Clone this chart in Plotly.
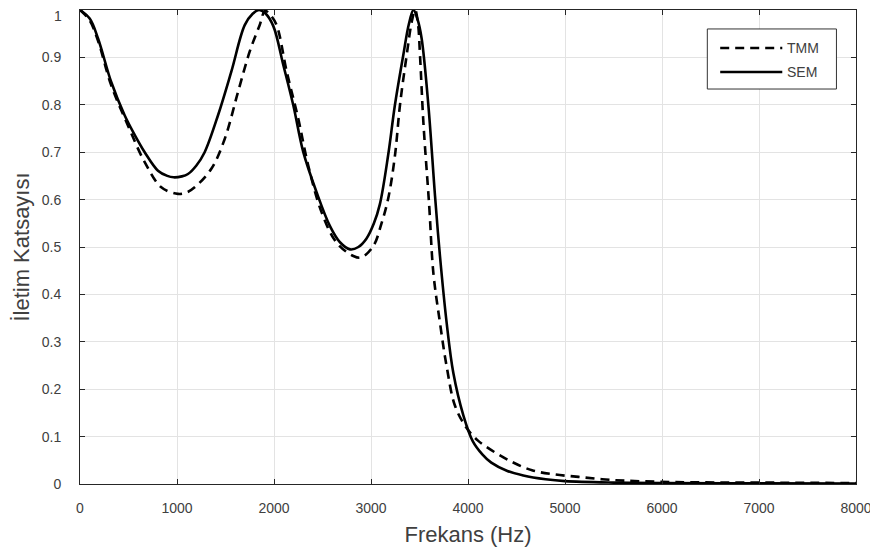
import plotly.graph_objects as go

# ---- data ----
sem_freq = [0, 100, 186, 322, 460, 560, 667, 804, 900, 965, 1050, 1113, 1200, 1285, 1423,
            1560, 1698, 1780, 1845, 1910, 1993, 2096, 2199, 2302, 2440, 2577, 2680, 2784,
            2870, 2954, 3030, 3091, 3177, 3247, 3333, 3390, 3438, 3480, 3522, 3591, 3660,
            3711, 3780, 3849, 3952, 4050, 4150, 4240, 4400, 4570, 4800, 5000, 5500, 6000,
            7000, 8000]
sem_vals = [1.0, 0.982, 0.94, 0.848, 0.778, 0.738, 0.70, 0.661, 0.650, 0.647, 0.649, 0.654,
            0.672, 0.70, 0.778, 0.87, 0.968, 0.992, 1.0, 0.993, 0.966, 0.884, 0.799, 0.70,
            0.615, 0.544, 0.51, 0.495, 0.50, 0.518, 0.55, 0.59, 0.694, 0.80, 0.905, 0.97,
            1.0, 0.98, 0.94, 0.80, 0.608, 0.481, 0.34, 0.234, 0.145, 0.09, 0.062, 0.045,
            0.028, 0.018, 0.010, 0.006, 0.003, 0.002, 0.0015, 0.001]

tmm_freq = [0, 100, 186, 322, 495, 667, 838, 1010, 1100, 1182, 1354, 1492, 1629, 1749,
            1852, 1907, 1960, 2027, 2131, 2250, 2353, 2491, 2646, 2818, 2900, 3024,
            3110, 3179, 3247, 3299, 3368, 3420, 3455, 3485, 3505, 3540, 3600, 3643,
            3711, 3780, 3866, 3986, 4100, 4192, 4420, 4660, 4900, 5141, 5381, 5620,
            6134, 7000, 8000]
tmm_vals = [1.0, 0.978, 0.935, 0.841, 0.756, 0.679, 0.626, 0.612, 0.615, 0.626, 0.665,
            0.728, 0.827, 0.912, 0.968, 0.998, 0.99, 0.968, 0.87, 0.771, 0.672, 0.573,
            0.509, 0.481, 0.478, 0.502, 0.551, 0.604, 0.693, 0.80, 0.905, 0.975, 1.0,
            0.97, 0.905, 0.763, 0.587, 0.445, 0.34, 0.248, 0.165, 0.118, 0.092, 0.078,
            0.05, 0.029, 0.02, 0.015, 0.01, 0.007, 0.004, 0.003, 0.002]

x_ticks = [0, 1000, 2000, 3000, 4000, 5000, 6000, 7000, 8000]
y_ticks = [0, 0.1, 0.2, 0.3, 0.4, 0.5, 0.6, 0.7, 0.8, 0.9, 1]
y_tick_text = ["0", "0.1", "0.2", "0.3", "0.4", "0.5", "0.6", "0.7", "0.8", "0.9", "1"]
series_names = ["TMM", "SEM"]

FONT = "Liberation Sans, Arial, sans-serif"
TXT = "#404040"
AX = "#262626"
LW = 2.6
DASH = "9px,6px"

fig = go.Figure()
fig.add_trace(go.Scatter(x=tmm_freq, y=tmm_vals, name=series_names[0], mode="lines",
                         showlegend=False,
                         line=dict(color="black", width=LW, dash=DASH,
                                   shape="spline", smoothing=1.0)))
fig.add_trace(go.Scatter(x=sem_freq, y=sem_vals, name=series_names[1], mode="lines",
                         showlegend=False,
                         line=dict(color="black", width=LW,
                                   shape="spline", smoothing=1.0)))

axis_common = dict(showline=True, linecolor=AX, linewidth=1, mirror="ticks",
                   ticks="inside", ticklen=5, tickcolor=AX,
                   showgrid=True, gridcolor="#e3e3e3", gridwidth=1,
                   zeroline=False, automargin=False,
                   tickfont=dict(family=FONT, size=14, color=TXT))

# legend box drawn in paper coordinates (MATLAB style, long line samples)
lg_x0, lg_x1, lg_y0, lg_y1 = 0.8084, 0.9748, 0.8333, 0.96
line_x0, line_x1, text_x = 0.825, 0.905, 0.908
row_y = [0.9198, 0.8692]
shapes = [dict(type="rect", xref="paper", yref="paper", x0=lg_x0, x1=lg_x1,
               y0=lg_y0, y1=lg_y1, line=dict(color="#333333", width=1),
               fillcolor="white", layer="above")]
annotations = []
for i, nm in enumerate(series_names):
    shapes.append(dict(type="line", xref="paper", yref="paper", x0=line_x0, x1=line_x1,
                       y0=row_y[i], y1=row_y[i], layer="above",
                       line=dict(color="black", width=LW,
                                 dash=(DASH if i == 0 else "solid"))))
    annotations.append(dict(xref="paper", yref="paper", x=text_x, y=row_y[i],
                            xanchor="left", yanchor="middle", showarrow=False,
                            text=nm, font=dict(family=FONT, size=14, color=TXT)))

# top tick label "1" (nudged down so it stays inside the figure)
annotations.append(dict(xref="paper", yref="y", x=-0.0215, y=y_ticks[-1],
                        xanchor="right", yanchor="middle", yshift=-6, showarrow=False,
                        borderpad=0,
                        text=y_tick_text[-1], font=dict(family=FONT, size=14, color=TXT)))
y_tick_text_axis = y_tick_text[:-1] + [""]

# the page adds an 8px body margin, so the figure is 8px smaller each way
fig.update_layout(
    width=870, height=546,
    margin=dict(l=72, r=22, t=2, b=70),
    paper_bgcolor="white", plot_bgcolor="white",
    font=dict(family=FONT, color=TXT),
    xaxis=dict(range=[0, 8000], tickvals=x_ticks, ticklabelstandoff=11,
               title=dict(text="Frekans (Hz)", font=dict(family=FONT, size=22, color=TXT),
                          standoff=11),
               **axis_common),
    yaxis=dict(range=[0, 1], tickvals=y_ticks, ticktext=y_tick_text_axis,
               ticklabelstandoff=15,
               title=dict(text="İletim Katsayısı", font=dict(family=FONT, size=22, color=TXT),
                          standoff=6),
               **axis_common),
    shapes=shapes, annotations=annotations,
    showlegend=False,
)

fig.write_html("out.html")
